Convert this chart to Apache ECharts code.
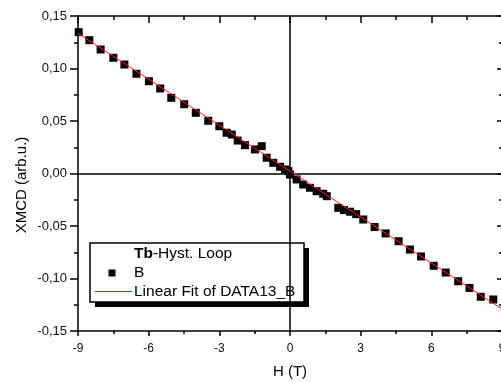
<!DOCTYPE html>
<html>
<head>
<meta charset="utf-8">
<script src="https://cdn.jsdelivr.net/npm/echarts@6/dist/echarts.min.js"></script>
<style>
html,body{margin:0;padding:0;background:#fff;}
#chart{width:501px;height:383px;}
</style>
</head>
<body>
<div id="chart"></div>
<script>
// Data
const hField = [-8.97,-8.52,-8.04,-7.50,-7.03,-6.52,-5.99,-5.51,-5.04,-4.49,-4.00,-3.47,-3.00,-2.69,-2.47,-2.22,-1.91,-1.49,-1.20,-0.99,-0.71,-0.42,-0.21,-0.07,0.00,0.28,0.56,0.85,1.13,1.41,1.56,2.05,2.29,2.55,2.81,3.11,3.59,4.06,4.61,5.09,5.56,6.10,6.61,7.14,7.62,8.10,8.63];
const xmcd = [0.1346,0.1270,0.1181,0.1102,0.1038,0.0950,0.0879,0.0810,0.0721,0.0660,0.0578,0.0502,0.0450,0.0388,0.0371,0.0314,0.0270,0.0229,0.0260,0.0150,0.0102,0.0064,0.0038,0.0022,-0.0010,-0.0057,-0.0105,-0.0136,-0.0169,-0.0193,-0.0216,-0.0327,-0.0348,-0.0364,-0.0387,-0.0438,-0.0510,-0.0571,-0.0645,-0.0724,-0.0790,-0.0879,-0.0943,-0.1026,-0.1090,-0.1174,-0.1200];
const fitX = [-9, 9];
const fitY = [0.1335, -0.1290];
const xTicks = [-9, -6, -3, 0, 3, 6, 9];
const yTicks = [-0.15, -0.10, -0.05, 0.00, 0.05, 0.10, 0.15];
const legendTitleBold = 'Tb';
const legendTitleRest = '-Hyst. Loop';
const seriesName = 'B';
const fitName = 'Linear Fit of DATA13_B';
const xName = 'H (T)';
const yName = 'XMCD (arb.u.)';

const FONT = '"Liberation Sans", Arial, Helvetica, sans-serif';
const chart = echarts.init(document.getElementById('chart'), null, {renderer: 'canvas'});

const scatterData = hField.map((h, i) => [h, xmcd[i]]);
const fitData = fitX.map((h, i) => [h, fitY[i]]);

const axisLineStyle = {color: '#000', width: 1.5};

const option = {
  animation: false,
  backgroundColor: '#fff',
  grid: {left: 78, top: 16, width: 424, height: 315, containLabel: false, outerBoundsMode: 'none'},
  xAxis: [
    {
      type: 'value', position: 'bottom',
      min: xTicks[0], max: xTicks[xTicks.length - 1], interval: 3,
      axisLine: {show: true, onZero: false, lineStyle: axisLineStyle},
      axisTick: {show: true, inside: false, length: 5, lineStyle: {color: '#000', width: 1.5}},
      minorTick: {show: true, splitNumber: 2, length: 3, lineStyle: {color: '#000', width: 1.5}},
      splitLine: {show: false},
      axisLabel: {show: true, margin: 12, color: '#111', fontSize: 12, fontFamily: FONT},
      name: xName, nameLocation: 'middle', nameGap: 33,
      nameTextStyle: {color: '#000', fontSize: 15, fontFamily: FONT}
    },
    {
      type: 'value', position: 'top',
      min: xTicks[0], max: xTicks[xTicks.length - 1], interval: 3,
      axisLine: {show: true, onZero: false, lineStyle: axisLineStyle},
      axisTick: {show: true, inside: true, length: 7, lineStyle: {color: '#000', width: 1.5}},
      minorTick: {show: true, splitNumber: 2, length: 4, lineStyle: {color: '#000', width: 1.5}},
      splitLine: {show: false},
      axisLabel: {show: false}
    }
  ],
  yAxis: [
    {
      type: 'value', position: 'left',
      min: yTicks[0], max: yTicks[yTicks.length - 1], interval: 0.05,
      axisLine: {show: true, onZero: false, lineStyle: axisLineStyle},
      axisTick: {show: true, inside: false, length: 8, lineStyle: {color: '#000', width: 1.5}},
      minorTick: {show: true, splitNumber: 2, length: 4, lineStyle: {color: '#000', width: 1.5}},
      splitLine: {show: false},
      axisLabel: {show: true, margin: 11, color: '#111', fontSize: 13, fontFamily: FONT,
        formatter: v => (Math.round(v * 100) / 100).toFixed(2).replace('.', ',')}
    },
    {
      type: 'value', position: 'right',
      min: yTicks[0], max: yTicks[yTicks.length - 1], interval: 0.05,
      axisLine: {show: true, onZero: false, lineStyle: axisLineStyle},
      axisTick: {show: true, inside: true, length: 5, lineStyle: {color: '#000', width: 1.5}},
      minorTick: {show: true, splitNumber: 2, length: 3, lineStyle: {color: '#000', width: 1.5}},
      splitLine: {show: false},
      axisLabel: {show: false}
    }
  ],
  series: [
    {
      name: seriesName,
      type: 'scatter',
      xAxisIndex: 0, yAxisIndex: 0,
      data: scatterData,
      symbol: 'rect',
      symbolSize: 8,
      itemStyle: {color: '#000', opacity: 1},
      z: 3,
      markLine: {
        silent: true,
        symbol: 'none',
        label: {show: false},
        lineStyle: {color: '#000', type: 'solid', width: 1.5},
        emphasis: {disabled: true},
        data: [{xAxis: 0}, {yAxis: 0}],
        z: 1
      }
    },
    {
      name: fitName,
      type: 'line',
      xAxisIndex: 0, yAxisIndex: 0,
      data: fitData,
      symbol: 'none',
      lineStyle: {color: '#ff2020', width: 1},
      z: 4
    }
  ],
  graphic: [
    {
      type: 'group', z: 100,
      children: [
        {type: 'rect', shape: {x: 95, y: 248, width: 214, height: 59}, style: {fill: '#000'}},
        {type: 'rect', shape: {x: 90, y: 243, width: 214, height: 59}, style: {fill: '#fff', stroke: '#000', lineWidth: 1.5}},
        {type: 'text', x: 134, y: 254, style: {
          text: '{b|' + legendTitleBold + '}' + legendTitleRest,
          rich: {b: {fontWeight: 'bold', fontSize: 15.5, fontFamily: FONT, fill: '#000'}},
          fontSize: 15.5, fontFamily: FONT, fill: '#000', verticalAlign: 'middle', align: 'left'}},
        {type: 'rect', shape: {x: 108.5, y: 269.5, width: 7, height: 7}, style: {fill: '#000'}},
        {type: 'text', x: 134, y: 273, style: {text: seriesName, fontSize: 15.5, fontFamily: FONT, fill: '#000', verticalAlign: 'middle', align: 'left'}},
        {type: 'line', shape: {x1: 95, y1: 291.5, x2: 132, y2: 291.5}, style: {stroke: '#ff0000', lineWidth: 1.2}},
        {type: 'text', x: 134, y: 292, style: {text: fitName, fontSize: 15.5, fontFamily: FONT, fill: '#000', verticalAlign: 'middle', align: 'left'}}
      ]
    },
    {
      type: 'text', x: 22, y: 185, rotation: Math.PI / 2, z: 100,
      style: {text: yName, fontSize: 15, fontFamily: FONT, fill: '#000', align: 'center', verticalAlign: 'middle'}
    }
  ]
};
chart.setOption(option);
</script>
</body>
</html>
